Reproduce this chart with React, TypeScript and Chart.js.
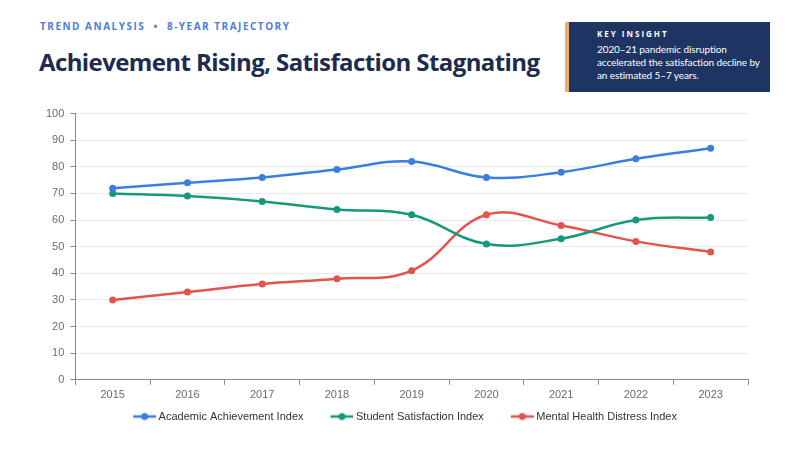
import React, { useEffect, useRef } from "react";
import { Chart, registerables } from "chart.js";

Chart.register(...registerables);

const years = ["2015", "2016", "2017", "2018", "2019", "2020", "2021", "2022", "2023"];
const achievement = [72, 74, 76, 79, 82, 76, 78, 83, 87];
const satisfaction = [70, 69, 67, 64, 62, 51, 53, 60, 61];
const distress = [30, 33, 36, 38, 41, 62, 58, 52, 48];
const seriesNames = ["Academic Achievement Index", "Student Satisfaction Index", "Mental Health Distress Index"];
const seriesColors = ["#3c7ee0", "#18987a", "#e2544c"];

// legend marker: transparent lead-in, then a short line with a dot
function legendIcon(color: string) {
  const c = document.createElement("canvas");
  c.width = 48;
  c.height = 10;
  const g = c.getContext("2d")!;
  g.strokeStyle = color;
  g.lineWidth = 2.5;
  g.beginPath();
  g.moveTo(25, 5);
  g.lineTo(48, 5);
  g.stroke();
  g.fillStyle = color;
  g.beginPath();
  g.arc(36.5, 5, 3.5, 0, Math.PI * 2);
  g.fill();
  return c;
}

const FONT = "'Liberation Sans', Arial, sans-serif";

export default function App() {
  const ref = useRef<HTMLCanvasElement>(null);
  useEffect(() => {
    const icons = seriesColors.map(legendIcon);
    const data = [achievement, satisfaction, distress];
    const chart = new Chart(ref.current!, {
      type: "line",
      data: {
        labels: years,
        datasets: data.map((d, i) => ({
          label: seriesNames[i],
          data: d,
          borderColor: seriesColors[i],
          backgroundColor: seriesColors[i],
          borderWidth: 2.5,
          pointRadius: 3.5,
          pointHoverRadius: 3.5,
          pointBorderWidth: 0,
          tension: 0.4,
          fill: false,
        })),
      },
      options: {
        animation: false,
        responsive: true,
        maintainAspectRatio: false,
        layout: { padding: { left: 0, right: 40, top: 7, bottom: 0 } },
        plugins: {
          tooltip: { enabled: false },
          legend: {
            position: "bottom",
            labels: {
              usePointStyle: true,
              pointStyleWidth: 42,
              boxHeight: 10,
              generateLabels: (ch: any) =>
                ch.data.datasets.map((ds: any, i: number) => ({
                  text: ds.label,
                  pointStyle: icons[i],
                  fillStyle: ds.borderColor,
                  strokeStyle: ds.borderColor,
                  lineWidth: 0,
                  hidden: false,
                  datasetIndex: i,
                  fontColor: "#333",
                })),
              color: "#333",
              font: { family: FONT, size: 11 },
              padding: 5,
            },
          },
        },
        scales: {
          x: {
            offset: true,
            grid: {
              offset: true,
              display: true,
              drawOnChartArea: false,
              drawTicks: true,
              tickLength: 5,
              color: "#8a8a8a",
            },
            border: { color: "#8a8a8a", width: 1 },
            ticks: {
              color: "#6b6b6b",
              font: { family: FONT, size: 11 },
              padding: 4,
            },
          },
          y: {
            min: 0,
            max: 100,
            ticks: {
              stepSize: 10,
              color: "#6b6b6b",
              font: { family: FONT, size: 11 },
              padding: 6,
            },
            grid: {
              color: "#e9e9ef",
              drawTicks: true,
              tickLength: 5,
              tickColor: "#8a8a8a",
            },
            border: { color: "#8a8a8a", width: 1 },
          },
        },
      },
    });
    return () => chart.destroy();
  }, []);

  return (
    <div style={{ position: "relative", width: 800, height: 450, margin: -8, background: "#fff", overflow: "hidden" }}>
      <div
        style={{
          position: "absolute",
          left: 40,
          top: 19,
          fontFamily: "'Open Sans', sans-serif",
          fontWeight: 700,
          fontSize: 10,
          letterSpacing: 1.5,
          color: "#4a80d6",
          whiteSpace: "nowrap",
        }}
      >
        TREND ANALYSIS&nbsp;&nbsp;•&nbsp;&nbsp;8-YEAR TRAJECTORY
      </div>
      <div
        style={{
          position: "absolute",
          left: 39,
          top: 45,
          fontFamily: "'Open Sans', sans-serif",
          fontWeight: 700,
          fontSize: 24,
          color: "#1d2b4f",
          letterSpacing: -0.6,
          whiteSpace: "nowrap",
        }}
      >
        Achievement Rising, Satisfaction Stagnating
      </div>
      <div
        style={{
          position: "absolute",
          left: 565,
          top: 22,
          width: 205,
          height: 70,
          boxSizing: "border-box",
          background: "#1e3563",
          borderLeft: "4px solid #e8b26e",
          padding: "6px 4px 0 28px",
          color: "#fff",
          fontFamily: "Lato, sans-serif",
          whiteSpace: "nowrap",
        }}
      >
        <div style={{ fontSize: 8, fontWeight: 700, letterSpacing: 2, marginBottom: 4, fontFamily: "'Open Sans', sans-serif" }}>
          KEY INSIGHT
        </div>
        <div style={{ fontSize: 10, lineHeight: "13px", letterSpacing: -0.1 }}>
          2020–21 pandemic disruption
          <br />
          accelerated the satisfaction decline by
          <br />
          an estimated 5–7 years.
        </div>
      </div>
      <div style={{ position: "absolute", left: 40, top: 101, width: 748, height: 331 }}>
        <canvas ref={ref} />
      </div>
    </div>
  );
}
